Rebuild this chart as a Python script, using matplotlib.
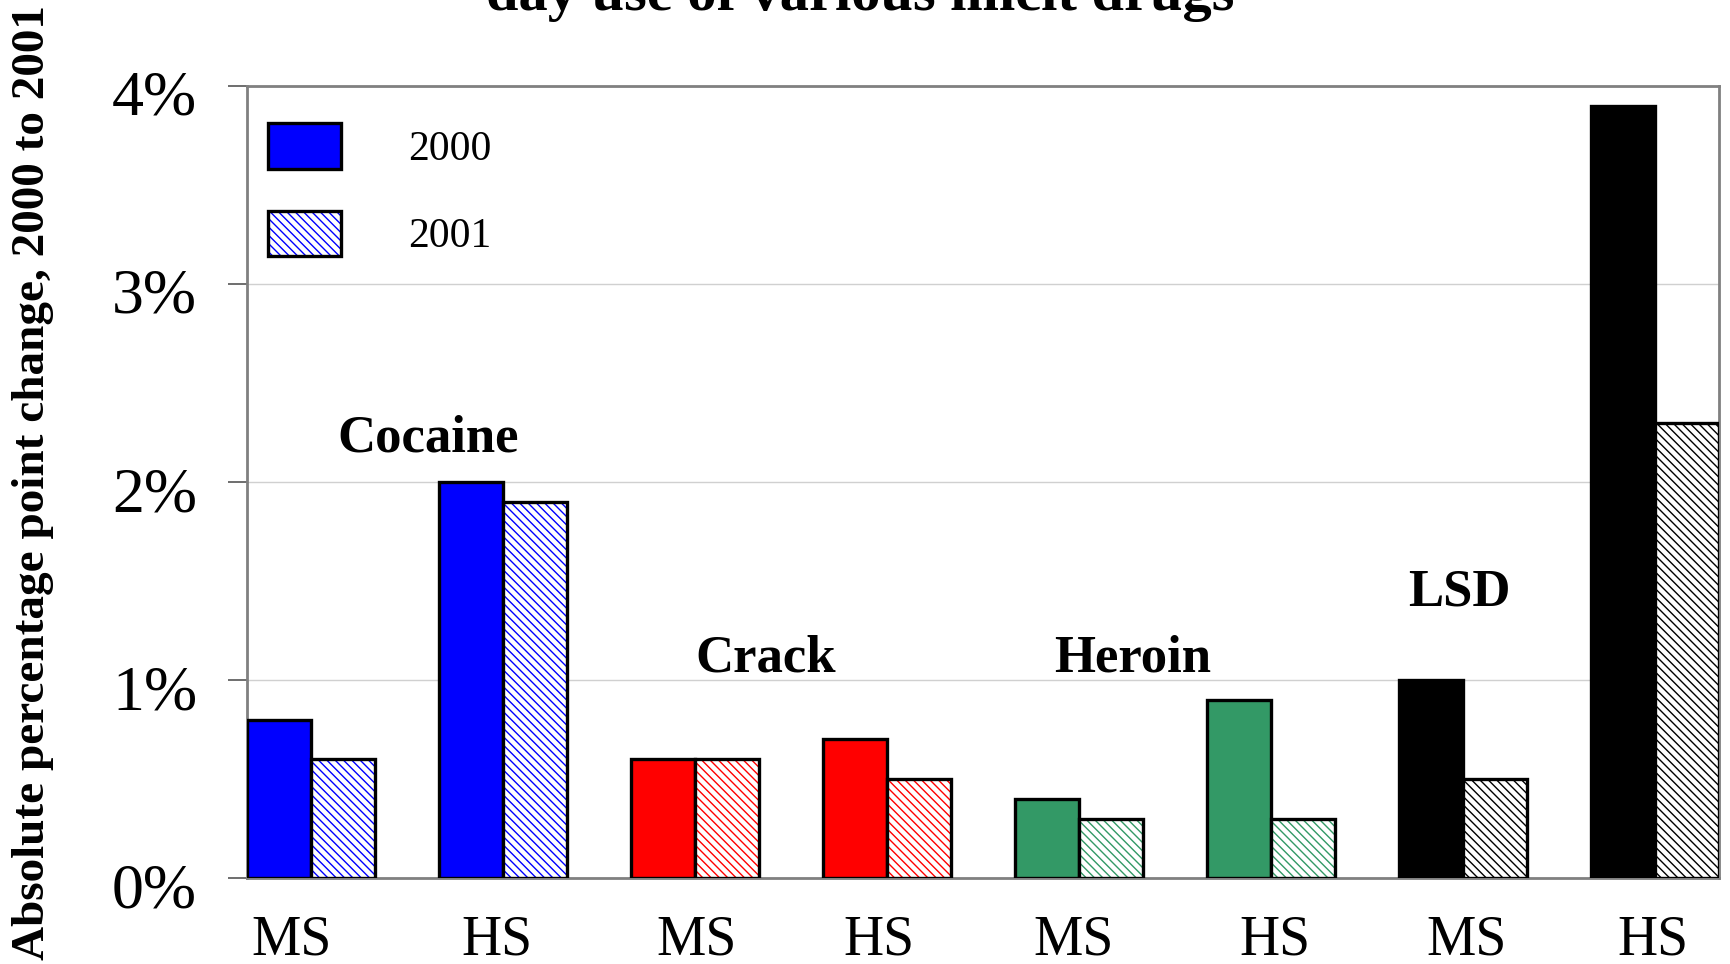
import numpy as np
import matplotlib
matplotlib.use("Agg")
import matplotlib.pyplot as plt
from matplotlib.patches import Patch
from matplotlib.ticker import FuncFormatter
from matplotlib.transforms import ScaledTranslation

# ----------------------------
# Data (percentage points)
# ----------------------------
groups = ["MS", "HS", "MS", "HS", "MS", "HS", "MS", "HS"]
vals_2000 = [0.8, 2.0, 0.6, 0.7, 0.4, 0.9, 1.0, 3.9]
vals_2001 = [0.6, 1.9, 0.6, 0.5, 0.3, 0.3, 0.5, 2.3]
drug_colors = ["#0000FF", "#0000FF", "#FF0000", "#FF0000",
               "#339966", "#339966", "#000000", "#000000"]
drug_names = ["Cocaine", "Crack", "Heroin", "LSD"]
drug_label_x = [0.61, 2.37, 4.28, 5.98]
drug_label_y = [2.22, 1.11, 1.11, 1.44]
years = ["2000", "2001"]

plt.rcParams["font.family"] = ["Liberation Serif", "DejaVu Serif"]
plt.rcParams["hatch.linewidth"] = 1.0

fig = plt.figure(figsize=(17.3, 9.64), dpi=100)
ax = fig.add_axes([0.1428, 0.0892, 0.8508, 0.8216])

x = np.arange(len(groups))
w = 0.333
hatch = "\\\\\\\\"

# 2000 bars: solid
ax.bar(x - w / 2, vals_2000, w, color=drug_colors, edgecolor="black",
       linewidth=2.4, zorder=3)
# 2001 bars: coloured hatch on white, black outline on top
ax.bar(x + w / 2, vals_2001, w, facecolor="white", edgecolor=drug_colors,
       hatch=hatch, linewidth=0, zorder=3)
ax.bar(x + w / 2, vals_2001, w, fill=False, edgecolor="black",
       linewidth=2.4, zorder=4)

ax.set_xlim(-w, len(groups) - 1 + w)
ax.set_ylim(0, 4)
ax.set_yticks([0, 1, 2, 3, 4])
ax.yaxis.set_major_formatter(FuncFormatter(lambda v, p: f"{v:.0f}%"))
ax.tick_params(axis="y", labelsize=46, length=14, width=1.2, color="#555555", pad=22)
# nudge y tick labels slightly below their ticks, as in the original
for lab in ax.get_yticklabels():
    lab.set_transform(lab.get_transform() + ScaledTranslation(0, -0.07, fig.dpi_scale_trans))

ax.set_xticks(x + np.array([-0.10, -0.03, 0.01, -0.04, -0.03, 0.02, 0.02, -0.01]))
ax.set_xticklabels(groups)
ax.tick_params(axis="x", labelsize=40, length=0, pad=26)

ax.grid(axis="y", color="#d0d0d0", linewidth=1, zorder=0)
for s in ax.spines.values():
    s.set_color("#808080")
    s.set_linewidth(2)

for name, lx, ly in zip(drug_names, drug_label_x, drug_label_y):
    ax.text(lx, ly, name, ha="center", va="center", fontsize=38, fontweight="bold")

ax.set_ylabel("Absolute percentage point change, 2000 to 2001",
              fontsize=34, fontweight="bold")
ax.yaxis.set_label_coords(-0.131, 0.50)

# Legend
handles = [
    Patch(facecolor="#0000FF", edgecolor="black", linewidth=2.4),
    (Patch(facecolor="white", edgecolor="#0000FF", hatch=hatch, linewidth=0),
     Patch(fill=False, edgecolor="black", linewidth=2.4)),
]
ax.legend(handles, years, loc="upper left", bbox_to_anchor=(0.0143, 0.953),
          frameon=False, fontsize=30, borderpad=0, borderaxespad=0,
          handlelength=1.75, handleheight=1.3, handletextpad=1.6,
          labelspacing=1.0)

# Title (top part cut off in the original)
fig.text(0.497, 0.99, "day use of various illicit drugs", ha="center",
         va="baseline", fontsize=42, fontweight="bold")

fig.savefig("out.png", dpi=100)
